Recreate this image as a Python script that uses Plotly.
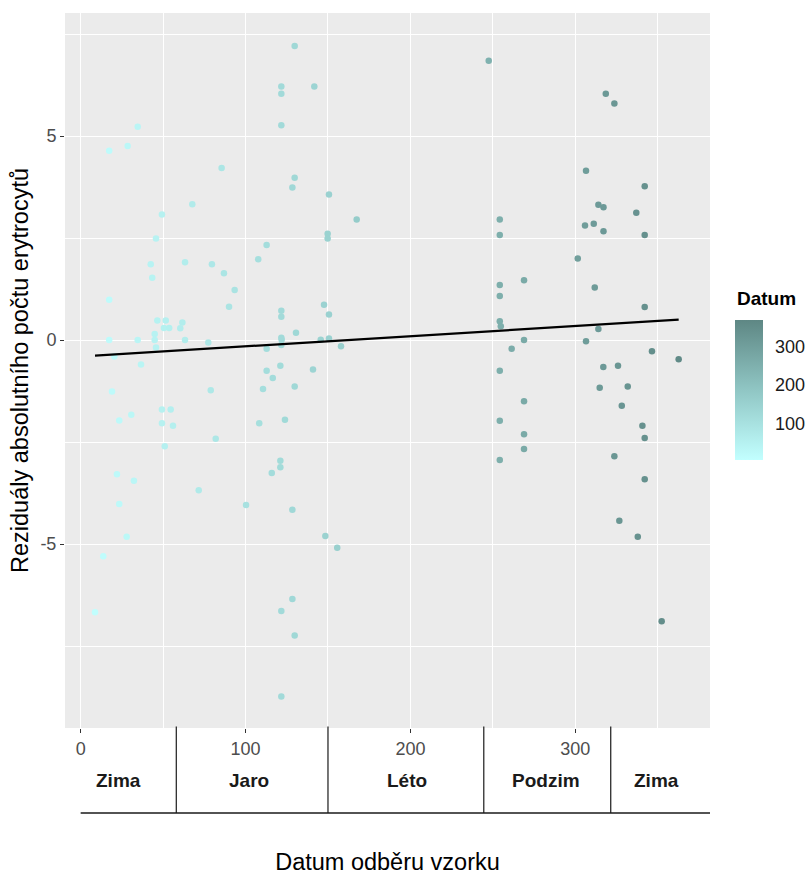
import plotly.graph_objects as go

# ---- data (day of year, residual) ----
winter_spring_days = [34.6, 17.3, 28.5, 85.5, 67.7, 49.3, 45.7, 42.5, 63.3, 79.6, 86.9, 43.4, 93.4,
                      17.3, 90.0, 46.5, 51.6, 61.7, 50.5, 53.7, 60.4, 44.9, 17.3, 34.6, 44.9, 63.3,
                      77.4, 45.7, 20.4, 36.6, 19.0, 78.9, 49.3, 54.6, 30.7, 23.4, 49.3, 56.0, 81.9,
                      51.0, 22.0, 32.3, 71.6, 23.4, 27.9, 13.7, 8.7]
winter_spring_resid = [5.23, 4.64, 4.76, 4.22, 3.33, 3.08, 2.49, 1.86, 1.91, 1.86, 1.64, 1.53, 1.23,
                       0.99, 0.82, 0.48, 0.48, 0.43, 0.30, 0.30, 0.29, 0.15, 0.00, 0.00, 0.00, 0.00,
                       -0.06, -0.18, -0.40, -0.60, -1.26, -1.23, -1.70, -1.70, -1.83, -1.97, -2.04, -2.10, -2.42,
                       -2.60, -3.29, -3.45, -3.68, -4.02, -4.82, -5.30, -6.67]

spring_summer_days = [129.8, 121.7, 141.7, 121.7, 121.7, 129.8, 128.4, 150.6, 167.4, 149.8, 149.8, 112.8,
                      107.7, 147.6, 150.6, 121.7, 121.7, 130.6, 121.7, 121.9, 121.7, 112.8, 145.6, 150.6,
                      157.9, 121.1, 112.8, 140.9, 116.5, 129.8, 110.6, 123.9, 108.3, 121.1, 121.1, 115.9,
                      100.3, 128.4, 148.4, 155.6, 128.4, 121.7, 129.8, 121.7]
spring_summer_resid = [7.21, 6.22, 6.22, 6.04, 5.27, 3.98, 3.74, 3.57, 2.96, 2.61, 2.49, 2.33,
                       1.98, 0.87, 0.63, 0.72, 0.57, 0.18, 0.06, 0.01, -0.12, -0.21, 0.01, 0.04,
                       -0.15, -0.63, -0.75, -0.72, -0.93, -1.14, -1.20, -1.95, -2.04, -2.96, -3.12, -3.26,
                       -4.04, -4.16, -4.80, -5.09, -6.35, -6.64, -7.24, -8.74]

autumn_winter_days = [247.5, 318.5, 323.7, 306.5, 342.1, 314.0, 317.1, 337.0, 254.2, 305.9, 311.2, 317.1,
                      254.2, 342.1, 301.5, 254.2, 268.9, 311.8, 254.2, 342.1, 254.2, 254.8, 314.0, 268.9,
                      306.5, 261.4, 346.5, 362.7, 254.2, 317.0, 325.9, 314.8, 331.8, 268.9, 328.2, 254.2,
                      340.7, 268.9, 342.1, 268.9, 254.2, 323.7, 342.1, 326.7, 337.9, 352.4]
autumn_winter_resid = [6.85, 6.04, 5.80, 4.15, 3.77, 3.32, 3.26, 3.12, 2.96, 2.81, 2.85, 2.67,
                       2.58, 2.58, 2.00, 1.35, 1.47, 1.29, 1.08, 0.81, 0.46, 0.34, 0.27, 0.00,
                       -0.03, -0.21, -0.27, -0.47, -0.75, -0.66, -0.63, -1.17, -1.14, -1.50, -1.61, -1.98,
                       -2.10, -2.31, -2.40, -2.67, -2.94, -2.85, -3.41, -4.43, -4.82, -6.89]

# regression line (end points)
trend_days = [8.7, 362.7]
trend_resid = [-0.38, 0.50]

# season strip below the axis
season_labels = ["Zima", "Jaro", "Léto", "Podzim", "Zima"]
season_label_pos = [23, 102, 198, 282, 349]
season_borders = [58, 150, 244.5, 321.5]

x_tickvals = [0, 100, 200, 300]
x_ticktext = ["0", "100", "200", "300"]
y_tickvals = [-5, 0, 5]
y_ticktext = ["-5", "0", "5"]
color_tickvals = [100, 200, 300]
color_min, color_max = 4, 370

x_title = "Datum odběru vzorku"
y_title = "Reziduály absolutního počtu erytrocytů"
color_title = "Datum"

# ---- figure ----
days = winter_spring_days + spring_summer_days + autumn_winter_days
resid = winter_spring_resid + spring_summer_resid + autumn_winter_resid

FONT = "Liberation Sans"
X_RANGE = [-9.5, 381.7]
Y_RANGE = [-9.51, 8.02]

W, H = 810, 875
ML, MR, MT, MB = 65, 100, 13, 147
PW, PH = W - ML - MR, H - MT - MB   # 645 x 715 plot area

CB_LEFT_PX = 670          # colorbar left edge, px from plot-area left
CB_THICK = 28
CB_LEN = 140
CB_BOTTOM_PX = 268        # px above plot-area bottom

fig = go.Figure()
fig.add_trace(go.Scatter(
    x=days, y=resid, mode="markers",
    marker=dict(
        size=6.5, color=days, cmin=color_min, cmax=color_max,
        colorscale=[[0, "#C2FFFF"], [0.5, "#90C6C4"], [1, "#5E8784"]],
        showscale=True,
        colorbar=dict(
            thickness=CB_THICK, thicknessmode="pixels",
            len=CB_LEN, lenmode="pixels",
            x=CB_LEFT_PX / PW, xanchor="left", xpad=0,
            y=CB_BOTTOM_PX / PH, yanchor="bottom", ypad=0,
            outlinewidth=0,
            tickvals=color_tickvals,
            ticks="outside", ticklen=9, tickcolor="rgba(255,255,255,0)", tickwidth=1,
            tickfont=dict(family=FONT, size=18, color="#1A1A1A"),
        ),
        line=dict(width=0),
    ),
    showlegend=False, hoverinfo="x+y",
))
fig.add_trace(go.Scatter(
    x=trend_days, y=trend_resid, mode="lines",
    line=dict(color="#000000", width=2.2),
    showlegend=False, hoverinfo="skip",
))

# white tick marks inside the colour bar (ggplot style)
for v in color_tickvals:
    yp = (CB_BOTTOM_PX + (v - color_min) / (color_max - color_min) * CB_LEN) / PH
    for x0, x1 in [(CB_LEFT_PX, CB_LEFT_PX + 5), (CB_LEFT_PX + CB_THICK - 5, CB_LEFT_PX + CB_THICK)]:
        fig.add_shape(type="line", xref="paper", yref="paper", x0=x0 / PW, x1=x1 / PW, y0=yp, y1=yp,
                      line=dict(color="#FFFFFF", width=1.2))

fig.add_annotation(x=CB_LEFT_PX / PW, y=(728 - 298) / PH, xref="paper", yref="paper",
                   text="<b>" + color_title + "</b>", showarrow=False,
                   font=dict(family=FONT, size=19, color="#000000"),
                   xanchor="left", yanchor="middle")

# season strip
strip_bottom = -(813 - 728) / PH
for b in season_borders:
    fig.add_shape(type="line", xref="x", yref="paper", x0=b, x1=b, y0=0.002, y1=strip_bottom,
                  line=dict(color="#1A1A1A", width=1.2))
fig.add_shape(type="line", xref="x", yref="paper", x0=0, x1=X_RANGE[1], y0=strip_bottom, y1=strip_bottom,
              line=dict(color="#1A1A1A", width=1.6))
for lab, pos in zip(season_labels, season_label_pos):
    fig.add_annotation(x=pos, y=-(780 - 728) / PH, xref="x", yref="paper",
                       text="<b>" + lab + "</b>", showarrow=False,
                       font=dict(family=FONT, size=19, color="#1A1A1A"),
                       xanchor="center", yanchor="middle")

grid = "#FFFFFF"
fig.update_xaxes(
    range=X_RANGE, tickvals=x_tickvals, ticktext=x_ticktext,
    showgrid=True, gridcolor=grid, gridwidth=1.3, zeroline=False,
    minor=dict(tickvals=[50, 150, 250, 350], showgrid=True, gridcolor=grid, gridwidth=0.6, ticks=""),
    ticks="outside", ticklen=4, tickcolor="#333333", tickwidth=1,
    tickfont=dict(family=FONT, size=18, color="#4D4D4D"),
    title=dict(text=x_title, font=dict(family=FONT, size=23.5, color="#000000"), standoff=96),
    showline=False,
)
fig.update_yaxes(
    range=Y_RANGE, tickvals=y_tickvals, ticktext=y_ticktext,
    showgrid=True, gridcolor=grid, gridwidth=1.3, zeroline=False,
    minor=dict(tickvals=[-7.5, -2.5, 2.5, 7.5], showgrid=True, gridcolor=grid, gridwidth=0.6, ticks=""),
    ticks="outside", ticklen=4, tickcolor="#333333", tickwidth=1,
    tickfont=dict(family=FONT, size=18, color="#4D4D4D"),
    title=dict(text=y_title, font=dict(family=FONT, size=23.5, color="#000000"), standoff=5),
    showline=False,
)
fig.update_layout(
    width=W, height=H,
    margin=dict(l=ML, r=MR, t=MT, b=MB, autoexpand=False),
    plot_bgcolor="#EBEBEB", paper_bgcolor="#FFFFFF",
    font=dict(family=FONT),
)
# remove the browser's default 8 px body margin so the figure fills the window exactly
fig.write_html("out.html",
               config={"displayModeBar": False},
               post_script="document.body.style.margin='0';document.body.style.overflow='hidden';")
